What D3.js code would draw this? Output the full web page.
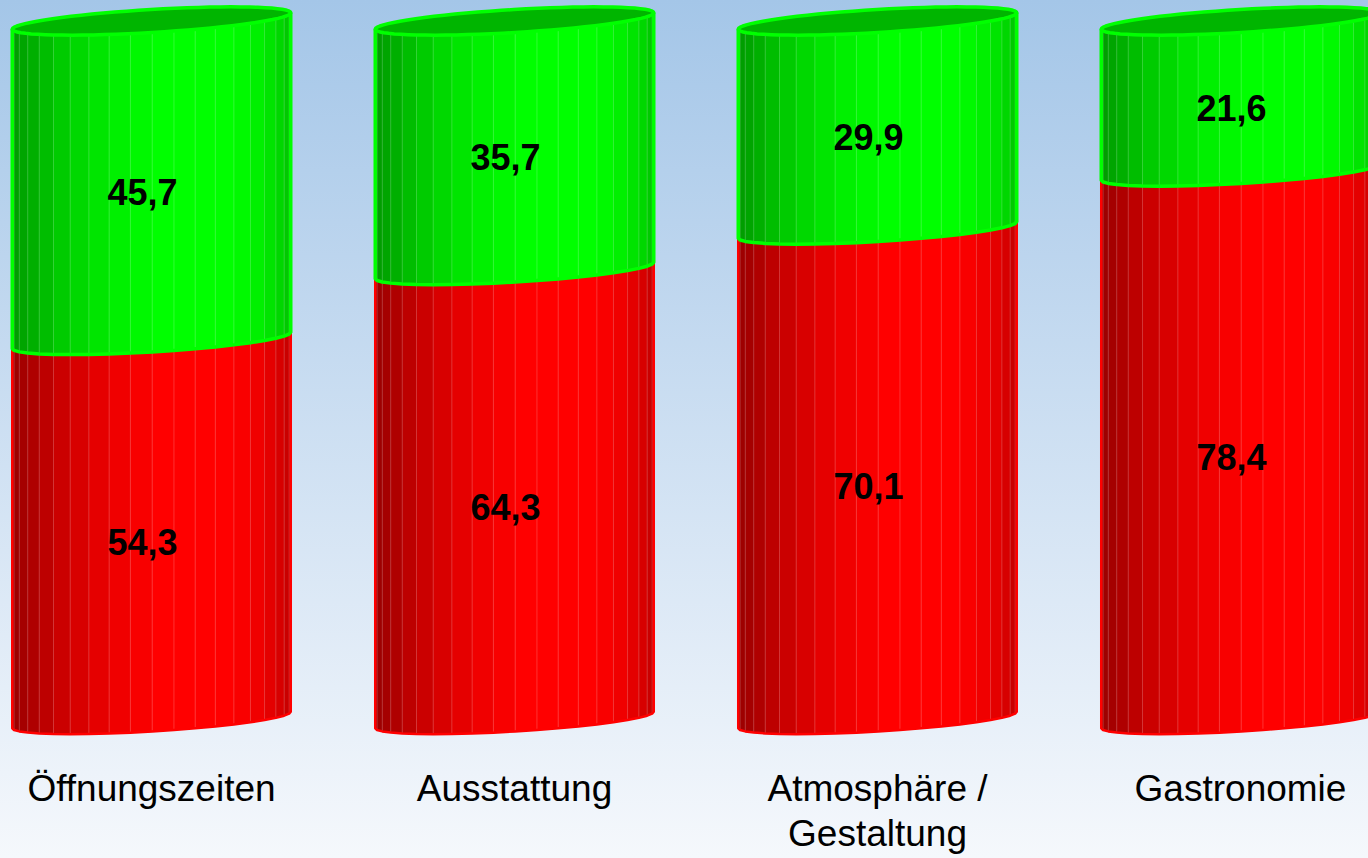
<!DOCTYPE html>
<html>
<head>
<meta charset="utf-8">
<script src="https://cdn.jsdelivr.net/npm/d3@7/dist/d3.min.js"></script>
<style>
  html, body { margin: 0; padding: 0; overflow: hidden; }
  svg { display: block; }
</style>
</head>
<body>
<svg id="chart" width="1368" height="858"></svg>
<script>
// ---- data ----
const categories = ["Öffnungszeiten", "Ausstattung", "Atmosphäre / Gestaltung", "Gastronomie"];
const seriesKeys = ["rot", "gruen"];
const valuesRot = [54.3, 64.3, 70.1, 78.4];
const valuesGruen = [45.7, 35.7, 29.9, 21.6];
const valueLabelsRot = ["54,3", "64,3", "70,1", "78,4"];
const valueLabelsGruen = ["45,7", "35,7", "29,9", "21,6"];

// ---- setup ----
const W = 1368, H = 858;
const svg = d3.select("#chart");

const defs = svg.append("defs");
const bg = defs.append("linearGradient").attr("id", "bg")
  .attr("x1", 0).attr("y1", 0).attr("x2", 0).attr("y2", 1);
bg.append("stop").attr("offset", "0%").attr("stop-color", "#a4c6e8");
bg.append("stop").attr("offset", "100%").attr("stop-color", "#f5f8fc");
svg.append("rect").attr("width", W).attr("height", H).attr("fill", "url(#bg)");

const rows = categories.map((c, i) => ({ cat: c, rot: valuesRot[i], gruen: valuesGruen[i] }));
const stacked = d3.stack().keys(seriesKeys)(rows);

const x = d3.scaleBand().domain(categories)
  .range([-30, 1422]).paddingInner(84 / 363).paddingOuter(42 / 363);
const y = d3.scaleLinear().domain([0, 100]).range([720, 21]);

const baseColor = { rot: [255, 0, 0], gruen: [0, 255, 0] };
const edgeColor = { rot: "#ff0000", gruen: "#00ff00" };
const labelsByKey = { rot: valueLabelsRot, gruen: valueLabelsGruen };

const a = x.bandwidth() / 2;
const b = 11.5;
const phi = -3.4 * Math.PI / 180;
const thL = 13 * Math.PI / 180;

function P(cx, v, th) {
  const u = a * Math.sin(th), w = b * Math.cos(th);
  return [cx + u * Math.cos(phi) - w * Math.sin(phi), y(v) + u * Math.sin(phi) + w * Math.cos(phi)];
}
function shade(rgb, th) {
  const c = Math.max(0, Math.cos(th - thL));
  const I = Math.min(1, 0.62 + 0.38 * Math.pow(c, 1.5) + 0.06 * Math.max(0, Math.sin(th)));
  return d3.rgb(rgb[0] * I, rgb[1] * I, rgb[2] * I).formatHex();
}

const N = 20;
const thetas = d3.range(N + 1).map(i => -Math.PI / 2 + i * Math.PI / N);
const line = d3.line();

const g = svg.append("g");

categories.forEach((cat, i) => {
  const cx = x(cat) + x.bandwidth() / 2;
  const cg = g.append("g");
  stacked.forEach((layer, li) => {
    const key = layer.key;
    const v0 = layer[i][0], v1 = layer[i][1];
    // facets
    for (let k = 0; k < N; k++) {
      const t0 = thetas[k], t1 = thetas[k + 1];
      const col = shade(baseColor[key], (t0 + t1) / 2);
      cg.append("path")
        .attr("d", line([P(cx, v0, t0), P(cx, v0, t1), P(cx, v1, t1), P(cx, v1, t0)]) + "Z")
        .attr("fill", col).attr("stroke", col).attr("stroke-width", 0.6);
    }
    // facet lines
    for (let k = 1; k < N; k++) {
      cg.append("path")
        .attr("d", line([P(cx, v0, thetas[k]), P(cx, v1, thetas[k])]))
        .attr("stroke", "rgba(255,255,255,0.18)").attr("stroke-width", 1).attr("fill", "none");
    }
    // outline (sides + bottom front curve)
    const pts = [P(cx, v1, -Math.PI / 2)].concat(thetas.map(t => P(cx, v0, t)), [P(cx, v1, Math.PI / 2)]);
    cg.append("path").attr("d", line(pts))
      .attr("fill", "none").attr("stroke", edgeColor[key])
      .attr("stroke-width", key === "gruen" ? 3.5 : 2.5)
      .attr("stroke-linejoin", "round");
    // top ellipse for top layer
    if (li === stacked.length - 1) {
      const ring = d3.range(73).map(k => P(cx, v1, k * Math.PI / 36));
      const topCol = d3.rgb(baseColor[key][0] * 0.71, baseColor[key][1] * 0.71, baseColor[key][2] * 0.71).formatHex();
      cg.append("path").attr("d", line(ring) + "Z")
        .attr("fill", topCol).attr("stroke", edgeColor[key]).attr("stroke-width", 3.5)
        .attr("stroke-linejoin", "round");
    }
  });
  // value labels
  stacked.forEach(layer => {
    const v0 = layer[i][0], v1 = layer[i][1];
    cg.append("text")
      .attr("x", cx - 9)
      .attr("y", (y(v0) + y(v1)) / 2 + b)
      .attr("dy", "0.36em")
      .attr("text-anchor", "middle")
      .attr("font-family", "'Liberation Sans', Arial, sans-serif")
      .attr("font-weight", "bold")
      .attr("font-size", 36)
      .attr("fill", "#000")
      .text(labelsByKey[layer.key][i]);
  });
});

// category labels (x axis)
const xAxis = d3.axisBottom(x).tickSize(0).tickPadding(0);
const axG = svg.append("g").attr("transform", "translate(0,772)").call(xAxis);
axG.select(".domain").remove();
axG.selectAll("text")
  .attr("font-family", "'Liberation Sans', Arial, sans-serif")
  .attr("font-size", 37)
  .attr("fill", "#000")
  .each(function(d) {
    const t = d3.select(this);
    const words = d.split(" ");
    t.text(null);
    let lineWords = [];
    let tspan = t.append("tspan").attr("x", 0).attr("dy", "0.77em");
    words.forEach(wd => {
      lineWords.push(wd);
      tspan.text(lineWords.join(" "));
      if (tspan.node().getComputedTextLength() > 290 && lineWords.length > 1) {
        lineWords.pop();
        tspan.text(lineWords.join(" "));
        lineWords = [wd];
        tspan = t.append("tspan").attr("x", 0).attr("dy", "1.24em").text(wd);
      }
    });
  })
  .attr("dy", null);
</script>
</body>
</html>
